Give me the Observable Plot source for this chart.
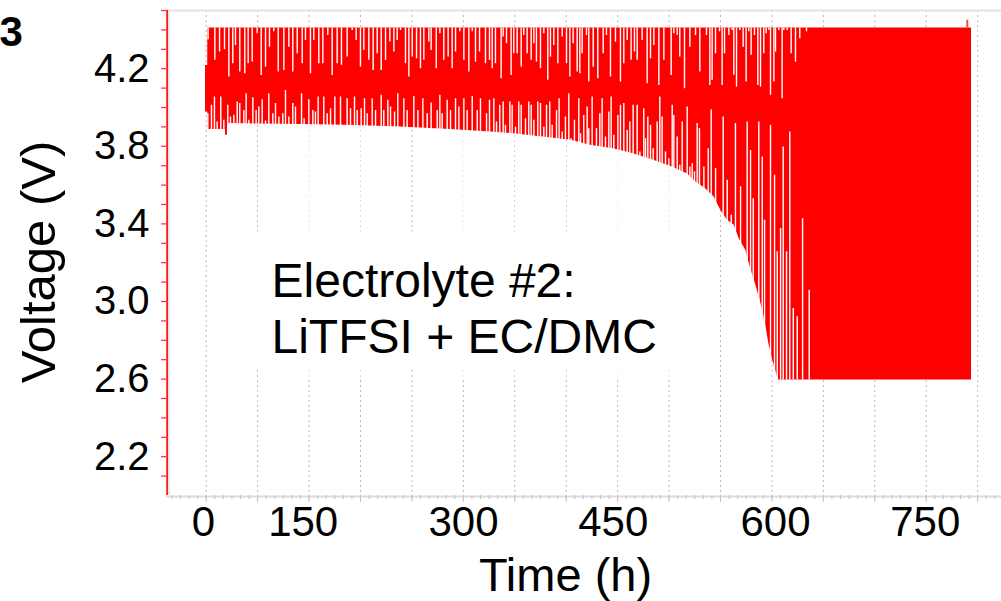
<!DOCTYPE html>
<html><head><meta charset="utf-8">
<script src="https://cdn.jsdelivr.net/npm/d3@7"></script>
<script src="https://cdn.jsdelivr.net/npm/@observablehq/plot@0.6"></script>
<style>
html,body{margin:0;padding:0;background:#fff;}
#chart{width:1001px;height:601px;overflow:hidden;}
</style></head><body><div id="chart"></div>
<script>
// ---- data (time in h, voltage in V) ----
const envT    = [-0.7, 1.6, 1.7, 20.0, 20.2, 22.1, 22.3, 98, 145, 202, 254, 296, 320, 355, 380, 400, 424, 445, 466, 484, 501, 510, 520, 529, 536, 543, 550, 555, 562, 567, 572, 577, 581, 584, 586, 590, 593, 596, 797.2];
const envLow  = [3.977, 3.977, 3.886, 3.886, 3.857, 3.857, 3.917, 3.912, 3.908, 3.899, 3.886, 3.874, 3.865, 3.845, 3.831, 3.805, 3.788, 3.762, 3.728, 3.696, 3.659, 3.616, 3.582, 3.539, 3.470, 3.419, 3.393, 3.325, 3.264, 3.170, 3.093, 3.007, 2.921, 2.844, 2.784, 2.698, 2.647, 2.595, 2.595];
const envHigh = [4.217, 4.217, 4.41, 4.41, 4.41, 4.41, 4.41, 4.41, 4.41, 4.41, 4.41, 4.41, 4.41, 4.41, 4.41, 4.41, 4.41, 4.41, 4.41, 4.41, 4.41, 4.41, 4.41, 4.41, 4.41, 4.41, 4.41, 4.41, 4.41, 4.41, 4.41, 4.41, 4.41, 4.41, 4.41, 4.41, 4.41, 4.41, 4.41];
const chargeTop = 4.41;
const dischargeBottom = 2.595;

// gaps between cycle traces near the top (from chargeTop down to V)
const upperGapT = [2.0, 9.0, 13.9, 19.1, 23.6, 27.7, 30.5, 35.0, 40.2, 43.7, 47.9, 53.1, 57.3, 61.8, 65.9, 70.4, 75.0, 80.9, 86.1, 90.2, 94.8, 100.0, 103.4, 108.6, 112.1, 117.3, 121.5, 126.7, 131.2, 136.4, 140.9,
  146.8, 152.1, 156.2, 160.7, 164.2, 169.4, 173.9, 178.1, 182.3, 186.8, 191.3, 195.5, 198.9, 202.4, 207.6, 211.1, 214.6, 219.1, 223.2, 226.7, 231.9, 234.3, 239.6, 243.4, 247.5, 252.0, 256.2, 259.7, 264.2, 268.4, 273.6, 277.1, 280.5, 284.7, 290.9, 295.1,
  297.9, 301.3, 307.2, 309.3, 312.8, 317.6, 320.4, 323.9, 328.1, 330.8, 334.3, 338.5, 341.3, 344.0, 348.2, 351.7, 355.8, 358.6, 362.1, 366.3, 370.8, 375.3, 378.8, 382.2, 386.4, 389.2, 391.6, 396.1, 398.5, 403.1, 407.9, 413.5, 416.9, 421.1, 426.3, 431.5, 435.0, 438.5, 442.6, 446.1, 448.9, 454.1, 459.3, 462.8, 466.3, 471.5, 476.7, 484.3, 487.1, 490.6, 493.3, 498.2, 503.8, 509.7, 514.2,
  521.1, 524.6, 527.0, 530.5, 534.7, 537.4, 539.9, 544.4, 547.9, 549.6, 552.4, 555.8, 559.3, 562.4, 565.2, 567.6, 571.1, 574.6, 577.4, 580.8, 583.3, 586.0, 587.8, 591.3, 593.0, 596.5, 599.9, 601.7, 605.1, 609.3, 613.8, 618.3, 625.3];
const upperGapV = [4.349, 4.243, 4.286, 4.298, 4.157, 4.226, 4.320, 4.183, 4.174, 4.226, 4.234, 4.380, 4.165, 4.208, 4.311, 4.390, 4.183, 4.191, 4.311, 4.183, 4.277, 4.226, 4.346, 4.174, 4.346, 4.226, 4.226, 4.371, 4.165, 4.226, 4.217,
  4.260, 4.397, 4.346, 4.208, 4.294, 4.243, 4.191, 4.277, 4.191, 4.243, 4.337, 4.286, 4.346, 4.397, 4.226, 4.157, 4.260, 4.251, 4.200, 4.243, 4.337, 4.294, 4.200, 4.380, 4.243, 4.260, 4.200, 4.286, 4.390, 4.243, 4.183, 4.390, 4.234, 4.286, 4.226, 4.243,
  4.200, 4.226, 4.148, 4.363, 4.329, 4.165, 4.277, 4.277, 4.208, 4.371, 4.277, 4.243, 4.329, 4.234, 4.200, 4.380, 4.140, 4.260, 4.320, 4.226, 4.363, 4.226, 4.157, 4.329, 4.183, 4.174, 4.277, 4.371, 4.131, 4.208, 4.148, 4.277, 4.371, 4.157, 4.337, 4.131, 4.226, 4.346, 4.243, 4.286, 4.243, 4.346, 4.123, 4.251, 4.320, 4.114, 4.243, 4.165, 4.380, 4.371, 4.260, 4.097, 4.311, 4.371, 4.183,
  4.371, 4.114, 4.140, 4.277, 4.390, 4.114, 4.277, 4.371, 4.397, 4.166, 4.105, 4.397, 4.311, 4.131, 4.390, 4.269, 4.371, 4.114, 4.105, 4.277, 4.380, 4.397, 4.063, 4.131, 4.286, 4.397, 4.045, 4.397, 4.397, 4.277, 4.234, 4.354, 4.390];

// gaps between cycle traces near the bottom (from the discharge end up to V)
const lowerGapT = [1.7, 5.5, 8.6, 11.4, 15.2, 18.4, 22.5, 25.3, 28.8, 32.3, 35.0, 39.2, 41.6, 44.4, 48.6, 52.0, 54.8, 58.3, 61.8, 65.2, 69.4, 72.2, 75.7, 79.8, 82.6, 86.1, 90.2, 93.0, 99.3, 102.0, 106.9, 111.1, 113.8, 116.6, 122.5, 126.0, 129.5, 134.0, 139.9,
  146.8, 150.3, 154.5, 157.3, 161.4, 164.9, 167.7, 172.9, 176.4, 182.3, 185.0, 189.2, 192.0, 196.2, 199.6, 205.9, 209.3, 216.3, 220.5, 225.7, 230.2, 234.3, 240.6, 243.4, 245.8, 251.0, 254.5, 259.7, 263.2, 268.4, 271.8, 277.1, 282.3, 285.7, 292.0, 295.1,
  299.6, 302.4, 305.8, 309.3, 311.7, 316.3, 318.7, 322.2, 325.6, 328.1, 332.6, 336.0, 338.5, 341.3, 345.4, 348.2, 351.7, 354.5, 357.9, 360.4, 364.9, 367.6, 370.8, 374.2, 377.7, 380.1, 383.6, 388.1, 389.9, 393.3, 396.8, 398.5, 402.0, 406.5, 410.0, 412.4, 415.9, 419.4, 421.8, 424.6, 428.8, 431.5, 435.0, 438.5, 441.3, 444.7, 448.9, 451.7, 455.8, 457.6, 460.0, 462.8, 465.6, 469.7, 472.5, 474.9, 478.4, 481.9, 485.4, 487.1, 490.6, 493.3, 495.8, 501.0, 503.8, 506.2, 508.6, 511.4, 513.8,
  518.4, 522.9, 526.0, 530.6, 538.5, 542.7, 546.9, 551.3, 556.6, 563.5, 567.0, 569.8, 575.6, 579.2, 581.6, 587.8, 592.0, 594.8, 598.3, 601.0, 604.5, 607.9, 611.5, 615.6, 621.2, 628.1];
const lowerGapV = [3.968, 4.011, 4.054, 3.925, 4.054, 3.934, 4.011, 3.951, 3.960, 4.028, 4.020, 3.985, 4.071, 3.934, 4.050, 3.985, 4.002, 4.040, 3.930, 4.071, 3.968, 4.020, 3.951, 3.968, 4.088, 3.951, 4.020, 4.002, 4.071, 3.942, 4.040, 3.985, 3.977, 4.054, 4.054, 3.968, 3.994, 4.054, 4.054,
  4.045, 3.994, 4.054, 3.985, 3.994, 4.045, 3.968, 4.045, 3.985, 4.063, 3.985, 4.037, 4.002, 3.977, 4.071, 4.045, 3.985, 4.057, 3.985, 4.045, 3.968, 4.023, 3.985, 4.063, 3.968, 4.037, 3.985, 4.045, 4.002, 4.045, 3.985, 4.057, 3.985, 4.045, 3.968, 4.037,
  4.045, 3.925, 4.011, 4.028, 3.908, 4.028, 4.011, 3.899, 4.028, 4.011, 3.942, 4.028, 4.011, 3.934, 4.028, 4.020, 3.899, 4.011, 4.028, 3.908, 3.985, 4.045, 3.874, 3.951, 4.071, 3.839, 3.934, 4.045, 3.865, 3.959, 4.002, 3.891, 4.054, 3.891, 3.968, 4.045, 3.848, 3.977, 4.054, 3.857, 3.959, 4.011, 4.020, 3.882, 3.925, 4.011, 4.011, 3.771, 3.994, 3.839, 3.951, 3.908, 3.788, 3.925, 4.054, 3.951, 3.771, 3.736, 4.011, 3.959, 3.848, 3.702, 3.925, 4.002, 3.693, 3.711, 3.668, 3.917, 3.891,
  3.693, 3.788, 3.989, 3.685, 3.951, 3.625, 3.445, 3.917, 3.591, 3.925, 3.779, 3.530, 3.925, 3.745, 3.419, 3.908, 3.651, 3.256, 3.376, 3.797, 3.256, 3.874, 2.964, 2.921, 3.427, 3.058];

const spikeT = [792.7];
const spikeV = [4.45];

// ---- axes ----
const yTicks = [2.2, 2.6, 3.0, 3.4, 3.8, 4.2];
const yTickLabels = ["2.2", "2.6", "3.0", "3.4", "3.8", "4.2"];
const yMinorTicks = [2.1, 2.2, 2.3, 2.4, 2.5, 2.6, 2.7, 2.8, 2.9, 3.0, 3.1, 3.2, 3.3, 3.4, 3.5, 3.6, 3.7, 3.8, 3.9, 4.0, 4.1, 4.2, 4.3, 4.4, 4.5];
const xTickPos = [-3, 101, 268, 424, 593, 749];
const xTickLabels = ["0", "150", "300", "450", "600", "750"];
const gridT = [0, 53.57, 107.14, 160.71, 214.29, 267.86, 321.43, 375, 428.57, 482.14, 535.71, 589.29, 642.86, 696.43, 750, 803.57];
const xMinorTicks = d3.range(-4, 93).map(k => k * 750 / 84);

const xDomain = [-41.35, 828.4];
const yDomain = [2.0, 4.5];

const envRows = envT.map((t, i) => ({t, low: envLow[i], high: envHigh[i]}));
const upperRows = upperGapT.map((t, i) => ({t, v: upperGapV[i]}));
const lowerRows = lowerGapT.map((t, i) => ({t, v: lowerGapV[i]}));
const spikeRows = spikeT.map((t, i) => ({t, v: spikeV[i]}));
const yLabelMap = new Map(yTicks.map((d, i) => [d, yTickLabels[i]]));
const xLabelMap = new Map(xTickPos.map((d, i) => [d, xTickLabels[i]]));

const chart = Plot.plot({
  width: 1001,
  height: 601,
  marginLeft: 166,
  marginRight: 0,
  marginTop: 10,
  marginBottom: 106,
  style: {fontFamily: "'Liberation Sans', Arial, sans-serif", background: "white", color: "black", overflow: "visible"},
  x: {domain: xDomain, label: null},
  y: {domain: yDomain, label: null},
  marks: [
    Plot.ruleX(gridT, {stroke: "#b8b8b8", strokeWidth: 1, strokeDasharray: "2,3"}),
    Plot.rect([0], {x1: () => 12.8, x2: () => 515, y1: () => 2.647, y2: () => 3.357, fill: "white"}),
    Plot.areaY(envRows, {x: "t", y1: "low", y2: "high", fill: "#ff0000"}),
    Plot.ruleX(upperRows, {x: "t", y1: "v", y2: () => chargeTop, stroke: "#fff", strokeWidth: 1.4}),
    Plot.ruleX(lowerRows, {x: "t", y1: () => dischargeBottom, y2: "v", stroke: "#fff", strokeWidth: 1.4}),
    Plot.ruleX(spikeRows, {x: "t", y1: () => chargeTop, y2: "v", stroke: "#ff4a4a", strokeWidth: 2}),
    Plot.ruleY([yDomain[1]], {stroke: "#e3e3e3", strokeWidth: 2}),
    Plot.ruleY([yDomain[0]], {stroke: "#dcdcdc", strokeWidth: 2, dy: 1}),
    Plot.ruleX([xDomain[0]], {stroke: "#dedede", strokeWidth: 1.5, dx: 2.4}),
    Plot.ruleX([xDomain[0]], {stroke: "#ff0000", strokeWidth: 1.6, dx: 0.6}),
    Plot.axisY({ticks: yMinorTicks, tickSize: 5, stroke: "#ff2a2a", strokeWidth: 1.2, tickFormat: () => "", label: null}),
    Plot.axisY({ticks: yTicks, tickSize: 0, tickPadding: 17, fontSize: 40, tickFormat: d => yLabelMap.get(d), label: null}),
    Plot.axisX({ticks: xMinorTicks, tickSize: 4, stroke: "#c4c4c4", tickFormat: () => "", label: null}),
    Plot.axisX({ticks: gridT, tickSize: 7, stroke: "#c4c4c4", tickFormat: () => "", label: null}),
    Plot.axisX({ticks: xTickPos, tickSize: 0, tickPadding: 11, fontSize: 42, tickFormat: d => xLabelMap.get(d), label: null}),
    Plot.text(["Voltage (V)"], {frameAnchor: "left", rotate: -90, dx: -126.7, dy: 9, fontSize: 49, textAnchor: "middle", lineAnchor: "middle", fill: "black"}),
    Plot.text(["Time (h)"], {frameAnchor: "bottom", dx: -18.5, dy: 80, fontSize: 47, textAnchor: "middle", lineAnchor: "middle", fill: "black"}),
    Plot.text(["3"], {frameAnchor: "top-left", dx: -167, dy: 22, fontSize: 42, fontWeight: "bold", textAnchor: "start", lineAnchor: "middle", fill: "black"}),
    Plot.text(["Electrolyte #2:\nLiTFSI + EC/DMC"], {frameAnchor: "top-left", dx: 105, dy: 246, fontSize: 48, lineHeight: 1.18, textAnchor: "start", lineAnchor: "top", fill: "black"})
  ]
});
document.getElementById("chart").appendChild(chart);
</script>
</body></html>
